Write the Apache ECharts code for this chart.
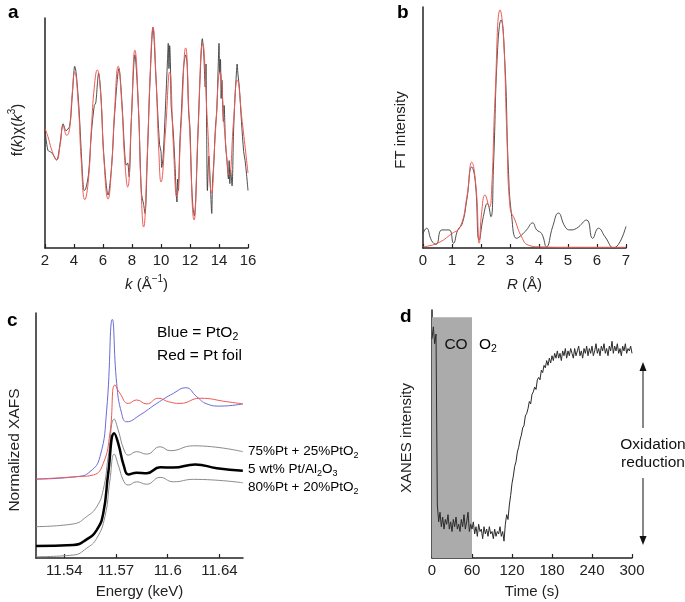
<!DOCTYPE html>
<html><head><meta charset="utf-8">
<script src="https://cdn.jsdelivr.net/npm/echarts@6/dist/echarts.min.js"></script>
<style>html,body{margin:0;padding:0;background:#fff}#c{width:685px;height:602px}</style>
</head><body><div id="c"></div>
<script>
// ---------- Panel a: k-space EXAFS ----------
const aTicks = [2, 4, 6, 8, 10, 12, 14, 16];
const aFit = [[2.0,52],[2.2,48.5],[2.5,42],[2.8,38.3],[3.05,45],[3.25,53],[3.5,49],[3.7,52],[3.85,65],[4.05,76.5],[4.3,62],[4.5,38],[4.75,21],[5.0,30],[5.2,52],[5.4,70],[5.6,77.4],[5.85,66],[6.05,40],[6.35,21.3],[6.6,36],[6.8,60],[7.05,79],[7.3,62],[7.5,38],[7.7,26.5],[7.95,55],[8.2,86],[8.45,60],[8.6,30],[8.8,9.1],[9.05,40],[9.25,75],[9.45,95.7],[9.65,75],[9.85,42],[10.0,28.7],[10.3,50],[10.6,76.5],[10.85,45],[11.08,22.2],[11.4,55],[11.7,87],[11.95,55],[12.28,12.2],[12.55,50],[12.87,89],[13.2,55],[13.49,23.9],[13.75,50],[14.07,76.5],[14.4,50],[14.71,31.7],[15.0,55],[15.26,73],[15.6,55],[16.0,32.6]];
const aData = [[2.0,52],[2.2,42.5],[2.45,41.5],[2.8,38.3],[3.05,46],[3.25,54],[3.45,51],[3.7,53],[3.9,68],[4.05,79],[4.15,76],[4.35,60],[4.55,36],[4.7,25],[4.8,25.5],[5.0,32],[5.2,50],[5.4,62],[5.5,63],[5.7,76],[5.85,67],[6.05,41],[6.35,23],[6.6,36],[6.8,58],[7.1,78],[7.3,64],[7.5,41],[7.6,36],[7.7,37],[7.8,31],[7.95,55],[8.2,84],[8.45,60],[8.65,24],[8.8,19],[8.9,15],[9.05,38],[9.25,74],[9.45,96],[9.65,74],[9.9,45],[10.0,42],[10.05,35],[10.15,40],[10.3,60],[10.45,82],[10.5,89],[10.55,78],[10.6,88],[10.65,80],[10.7,62],[10.75,58],[10.85,50],[10.95,38],[11.05,24],[11.1,20],[11.15,30],[11.2,25],[11.3,46],[11.4,58],[11.55,78],[11.7,84],[11.8,80],[11.9,60],[12.0,52],[12.1,30],[12.2,18],[12.3,14],[12.4,22],[12.55,50],[12.7,75],[12.85,91],[12.95,84],[13.05,70],[13.1,80],[13.15,50],[13.2,25],[13.3,40],[13.4,28],[13.5,15],[13.55,28],[13.65,38],[13.75,52],[13.85,60],[13.95,80],[14.0,89],[14.05,76],[14.1,82],[14.15,65],[14.2,73],[14.3,55],[14.35,62],[14.45,45],[14.55,38],[14.65,30],[14.7,38],[14.75,28],[14.8,34],[14.9,27],[15.0,50],[15.1,65],[15.2,76],[15.25,80],[15.3,76],[15.4,70],[15.55,55],[15.7,42],[15.8,38],[15.9,32],[16.0,25]];

// ---------- Panel b: Fourier transform ----------
const bTicks = [0, 1, 2, 3, 4, 5, 6, 7];
const bFit = [[0.0,0.5],[0.5,2],[1.0,6],[1.28,8.7],[1.51,21],[1.68,35.6],[1.83,25],[1.94,2],[2.02,14.5],[2.14,22],[2.29,17],[2.37,25.3],[2.48,61],[2.66,98.8],[2.77,89],[2.89,47.6],[3.0,17],[3.17,11.6],[3.4,4.6],[3.63,1.2],[4.0,0.5],[5.0,0.3],[6.0,0.3],[7.0,0.3]];
const bData = [[0.0,6],[0.12,8.2],[0.3,3],[0.45,1.5],[0.65,7.5],[0.9,7.5],[1.05,2],[1.2,7.5],[1.35,10],[1.51,20],[1.68,33.6],[1.8,28],[1.94,3.3],[2.08,13],[2.22,18.5],[2.34,13],[2.43,34],[2.57,82],[2.69,94.6],[2.83,75],[2.94,34],[3.06,13],[3.23,4],[3.4,5.4],[3.57,7.5],[3.78,10.4],[3.92,7.5],[4.09,6],[4.26,0.5],[4.47,8.8],[4.67,14.5],[4.9,8.8],[5.07,7.5],[5.3,8.2],[5.64,11.6],[5.85,4],[6.05,8.2],[6.28,4.6],[6.57,0],[7.0,9]];

// ---------- Panel c: XANES spectra ----------
const cTickPos = [11.54, 11.57, 11.60, 11.63];
const cTickText = ['11.54', '11.57', '11.6', '11.64'];
const cPtO2 = [[11.5236,32.2],[11.5472,33.2],[11.5549,35.2],[11.5607,41.3],[11.5646,60.4],[11.5679,97.4],[11.5704,71.3],[11.5733,59],[11.5762,55.6],[11.584,58.4],[11.5937,63.1],[11.6033,67.2],[11.6105,69.5],[11.6169,65.8],[11.6227,62.9],[11.6304,62],[11.6436,62.9]];
const cFoil = [[11.5236,32.2],[11.5472,33.2],[11.5569,33.9],[11.5626,38.6],[11.5665,50.9],[11.5694,70.6],[11.5723,67.2],[11.5772,63.1],[11.582,64.5],[11.5878,62.9],[11.5946,65.2],[11.6004,63.8],[11.6072,63.1],[11.6188,65.2],[11.6343,63.8],[11.6436,62.9]];
const cMix75 = [[11.5236,12.8],[11.5452,13.9],[11.553,16.9],[11.5588,20.9],[11.5626,27.8],[11.5655,41.3],[11.569,56.7],[11.5713,52.2],[11.5747,44.1],[11.5772,42],[11.582,43.4],[11.5878,42.4],[11.5956,45.4],[11.6014,43.8],[11.615,45.8],[11.6436,43.4]];
const cSample = [[11.5236,4.9],[11.5452,5.3],[11.553,7.6],[11.5588,11.4],[11.5626,18.2],[11.5655,34.6],[11.569,50.9],[11.5713,46.8],[11.5747,37.3],[11.5772,34.1],[11.582,34.8],[11.5878,34.6],[11.5956,37],[11.6033,36.9],[11.616,38.2],[11.6285,36.6],[11.6436,35.6]];
const cMix80 = [[11.5236,0.5],[11.5452,1.2],[11.553,4],[11.5588,8],[11.5636,16.9],[11.5665,31.8],[11.569,42.4],[11.5713,38],[11.5747,31.1],[11.5772,29.8],[11.582,31.1],[11.5878,30.1],[11.5956,32.9],[11.6033,31.1],[11.615,32.1],[11.6436,30.7]];

// ---------- Panel d: time-resolved XANES ----------
const dTicks = [0, 60, 120, 180, 240, 300];
const dStep = 2; // seconds between samples
const dValues = [91,96,89,93,22,15,19,13,17,12,16,14,18,12,15,11,16,13,17,12,14,11,16,13,18,12,15,19,11,14,12,15,10,13,9,14,11,12,8,13,10,12,9,13,10,11,8,12,9,11,10,13,9,11,7,14,18,16,22,26,31,34,38,40,44,46,49,51,54,55,59,60,62,65,64,68,69,71,70,74,75,74,78,77,80,79,82,80,83,81,84,82,85,83,86,83,85,82,86,84,87,83,86,84,87,85,83,87,84,86,88,84,86,83,87,85,88,84,87,85,88,84,86,89,85,87,84,88,86,89,85,87,84,88,86,90,85,88,86,89,85,87,84,88,86,89,85,87,86,88,85];
const dCO = [0, 60];

const FONT = "'Liberation Sans', Arial, Helvetica, sans-serif";
const AX = '#222';
const RED = '#ee5a55';

function xAx(grid, min, max, extra) {
  return Object.assign({
    type: 'value', gridIndex: grid, min: min, max: max,
    axisLine: { show: true, lineStyle: { color: AX, width: 1.5 } },
    axisTick: { show: true, inside: true, length: 4, lineStyle: { color: AX, width: 1.2 } },
    axisLabel: { color: AX, fontSize: 15, fontFamily: FONT, margin: 5 },
    splitLine: { show: false },
    nameLocation: 'middle', nameGap: 26,
    nameTextStyle: { color: AX, fontSize: 15, fontFamily: FONT,
      rich: { i: { fontStyle: 'italic', fontSize: 15, fontFamily: FONT, color: AX },
              s: { fontSize: 10, verticalAlign: 'top', fontFamily: FONT, color: AX, lineHeight: 10 },
              n: { fontSize: 15, fontFamily: FONT, color: AX, lineHeight: 21 } } }
  }, extra);
}
function yAx(grid, min, max) {
  return { type: 'value', gridIndex: grid, min: min, max: max,
    axisLine: { show: true, onZero: false, lineStyle: { color: AX, width: 1.5 } },
    axisTick: { show: false }, axisLabel: { show: false }, splitLine: { show: false } };
}
function line(xi, data, color, width, z, smooth) {
  return { type: 'line', xAxisIndex: xi, yAxisIndex: xi, data: data, showSymbol: false, symbol: 'none',
    smooth: smooth, lineStyle: { color: color, width: width }, z: z, silent: true, animation: false };
}

const subRich = {
  b: { fontSize: 15.5, fontFamily: FONT, color: '#111', lineHeight: 20 },
  sb: { fontSize: 10.5, fontFamily: FONT, color: '#111', verticalAlign: 'bottom', lineHeight: 14 },
  m: { fontSize: 13.5, fontFamily: FONT, color: '#111', lineHeight: 18 },
  sm: { fontSize: 9, fontFamily: FONT, color: '#111', verticalAlign: 'bottom', lineHeight: 12 }
};

const chart = echarts.init(document.getElementById('c'), null, { renderer: 'canvas' });
chart.setOption({
  animation: false,
  backgroundColor: '#fff',
  grid: [
    { left: 45, top: 18, width: 203, height: 230 },
    { left: 423, top: 7, width: 203, height: 241 },
    { left: 36, top: 313, width: 207, height: 245 },
    { left: 432, top: 310, width: 200, height: 248 }
  ],
  xAxis: [
    xAx(0, 2, 16, { interval: 2, name: '{i|k} {n|(Å}{s|−1}{n|)}' }),
    xAx(1, 0, 7, { interval: 1, name: '{i|R} {n|(Å)}' }),
    xAx(2, 11.5236, 11.6437, {
      name: 'Energy (keV)',
      axisTick: { show: true, inside: true, length: 4, customValues: cTickPos, lineStyle: { color: AX, width: 1.2 } },
      axisLabel: { color: AX, fontSize: 15, fontFamily: FONT, margin: 5, customValues: cTickPos,
        formatter: function (v) {
          let best = 0;
          cTickPos.forEach(function (p, i) { if (Math.abs(p - v) < Math.abs(cTickPos[best] - v)) best = i; });
          return cTickText[best];
        } }
    }),
    xAx(3, 0, 300, { interval: 60, name: 'Time (s)' })
  ],
  yAxis: [yAx(0, 0, 100), yAx(1, 0, 100), yAx(2, 0, 100), yAx(3, 0, 103)],
  series: [
    line(0, aData, '#3a3a3a', 0.9, 2, 0.3),
    line(0, aFit, RED, 1, 3, 0.5),
    line(1, bData, '#3a3a3a', 0.9, 2, 0.5),
    line(1, bFit, RED, 1, 3, 0.5),
    line(2, cPtO2, '#6a6ad8', 1, 3, 0.5),
    line(2, cFoil, RED, 1, 3, 0.5),
    line(2, cMix75, '#8a8a8a', 1, 2, 0.5),
    line(2, cSample, '#000', 2.5, 2, 0.5),
    line(2, cMix80, '#8a8a8a', 1, 2, 0.5),
    { type: 'line', xAxisIndex: 3, yAxisIndex: 3, data: [], z: 1, silent: true,
      markArea: { silent: true, itemStyle: { color: '#ababab', opacity: 1 },
        data: [[{ xAxis: dCO[0], yAxis: 0 }, { xAxis: dCO[1], yAxis: 100 }]] } },
    line(3, dValues.map(function (v, i) { return [i * dStep, v]; }), '#2a2a2a', 1, 3, false)
  ],
  graphic: [
    { type: 'text', z: 100, x: 8, y: 3, style: { text: 'a', font: 'bold 19px ' + FONT, fill: '#000' } },
    { type: 'text', z: 100, x: 397, y: 3, style: { text: 'b', font: 'bold 19px ' + FONT, fill: '#000' } },
    { type: 'text', z: 100, x: 7, y: 311, style: { text: 'c', font: 'bold 19px ' + FONT, fill: '#000' } },
    { type: 'text', z: 100, x: 400, y: 307, style: { text: 'd', font: 'bold 19px ' + FONT, fill: '#000' } },
    { type: 'text', z: 100, x: 18, y: 130, rotation: Math.PI / 2,
      style: { text: '{n|f(}{i|k}{n|)χ(}{i|k}{s|3}{n|)}', align: 'center', verticalAlign: 'middle',
        rich: { n: { fontSize: 15, fontFamily: FONT, fill: AX, lineHeight: 21 },
                i: { fontSize: 15, fontStyle: 'italic', fontFamily: FONT, fill: AX, lineHeight: 21 },
                s: { fontSize: 10, fontFamily: FONT, fill: AX, verticalAlign: 'top', lineHeight: 10 } } } },
    { type: 'text', z: 100, x: 401, y: 130, rotation: Math.PI / 2,
      style: { text: 'FT intensity', align: 'center', verticalAlign: 'middle', font: '15px ' + FONT, fill: AX } },
    { type: 'text', z: 100, x: 15, y: 450, rotation: Math.PI / 2,
      style: { text: 'Normalized XAFS', align: 'center', verticalAlign: 'middle', font: '15.5px ' + FONT, fill: AX } },
    { type: 'text', z: 100, x: 407, y: 438, rotation: Math.PI / 2,
      style: { text: 'XANES intensity', align: 'center', verticalAlign: 'middle', font: '15px ' + FONT, fill: AX } },
    { type: 'text', z: 100, x: 157, y: 333,
      style: { text: '{b|Blue = PtO}{sb|2}', verticalAlign: 'middle', rich: subRich } },
    { type: 'text', z: 100, x: 157, y: 356,
      style: { text: '{b|Red = Pt foil}', verticalAlign: 'middle', rich: subRich } },
    { type: 'text', z: 100, x: 248, y: 451,
      style: { text: '{m|75%Pt + 25%PtO}{sm|2}', verticalAlign: 'middle', rich: subRich } },
    { type: 'text', z: 100, x: 248, y: 469,
      style: { text: '{m|5 wt% Pt/Al}{sm|2}{m|O}{sm|3}', verticalAlign: 'middle', rich: subRich } },
    { type: 'text', z: 100, x: 248, y: 487,
      style: { text: '{m|80%Pt + 20%PtO}{sm|2}', verticalAlign: 'middle', rich: subRich } },
    { type: 'text', z: 100, x: 456, y: 345,
      style: { text: 'CO', align: 'center', verticalAlign: 'middle', font: '15.5px ' + FONT, fill: '#111' } },
    { type: 'text', z: 100, x: 479, y: 345,
      style: { text: '{b|O}{sb|2}', verticalAlign: 'middle', rich: subRich } },
    { type: 'line', z: 100, shape: { x1: 643, y1: 370, x2: 643, y2: 428 }, style: { stroke: '#111', lineWidth: 1 } },
    { type: 'polygon', z: 100, shape: { points: [[643, 362], [639.5, 371], [646.5, 371]] }, style: { fill: '#111' } },
    { type: 'line', z: 100, shape: { x1: 643, y1: 478, x2: 643, y2: 536 }, style: { stroke: '#111', lineWidth: 1 } },
    { type: 'polygon', z: 100, shape: { points: [[643, 545], [639.5, 536], [646.5, 536]] }, style: { fill: '#111' } },
    { type: 'text', z: 100, x: 653, y: 445,
      style: { text: 'Oxidation', align: 'center', verticalAlign: 'middle', font: '15.5px ' + FONT, fill: '#111' } },
    { type: 'text', z: 100, x: 653, y: 463,
      style: { text: 'reduction', align: 'center', verticalAlign: 'middle', font: '15.5px ' + FONT, fill: '#111' } }
  ]
});
</script>
</body></html>
